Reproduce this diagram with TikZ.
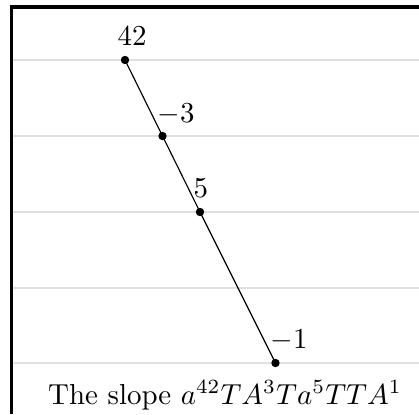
\documentclass[tikz,border=0pt]{standalone}
\begin{document}
\begin{tikzpicture}[x=0.346pt,y=-0.346pt,
  grid/.style={draw=black!12,line width=0.7pt},
  frameline/.style={draw=black,line width=1.1pt},
  slopeline/.style={draw=black,line width=0.4pt},
  dot/.style={circle,fill=black,inner sep=0pt,minimum size=2.9pt},
  val/.style={anchor=base west,inner sep=0pt}]
\useasboundingbox (0,0) rectangle (419,414);
\foreach \yy in {60,136,212,288,363} \draw[grid] (13,\yy) -- (419,\yy);
\draw[frameline] (419,7) -- (11.5,7) -- (11.5,414);
\node[dot] (p1) at (125,60) {};
\node[dot] (p2) at (162.5,136) {};
\node[dot] (p3) at (200,212) {};
\node[dot] (p4) at (275.5,363) {};
\draw[slopeline] (p1.center) -- (p2.center) -- (p3.center) -- (p4.center);
\node[val] (l1) at (117,45) {$42$};
\node[val] (l2) at (157,122) {$-3$};
\node[val] (l3) at (193,197) {$5$};
\node[val] (l4) at (270,348) {$-1$};
\node[anchor=base,inner sep=0pt] (cap) at (225,404) {The slope $a^{42}TA^3Ta^5TTA^1$};
\end{tikzpicture}
\end{document}
